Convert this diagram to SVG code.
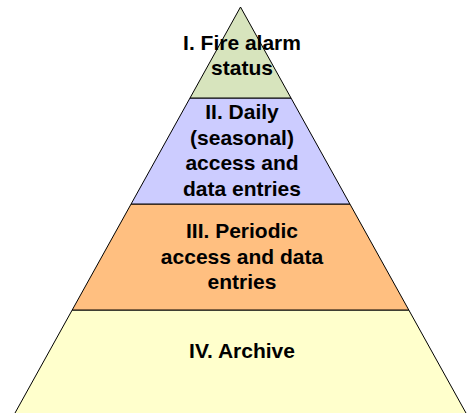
<svg xmlns="http://www.w3.org/2000/svg" width="468" height="413" viewBox="0 0 468 413">
<style>
.layer{stroke:#000;stroke-width:1}
.t{font-family:"Liberation Sans",Arial,sans-serif;font-weight:bold;font-size:21px;fill:#000;text-anchor:middle}
</style>
<rect width="468" height="413" fill="#fff"/>
<g id="level4">
<polygon class="layer" fill="#ffffcc" points="72.2,310 408.8,310 467.1,415 13.9,415"/>
<text class="t" x="242" y="358">IV. Archive</text>
</g>
<g id="level3">
<polygon class="layer" fill="#ffbf80" points="131.1,204 349.9,204 408.8,310 72.2,310"/>
<text class="t" x="242" y="238">III. Periodic</text>
<text class="t" x="242" y="263.5">access and data</text>
<text class="t" x="242" y="289">entries</text>
</g>
<g id="level2">
<polygon class="layer" fill="#ccccff" points="190,98 291,98 349.9,204 131.1,204"/>
<text class="t" x="242" y="119">II. Daily</text>
<text class="t" x="242" y="144.5">(seasonal)</text>
<text class="t" x="242" y="170">access and</text>
<text class="t" x="242" y="195.5">data entries</text>
</g>
<g id="level1">
<polygon class="layer" fill="#d7e4bd" points="240.5,7 291,98 190,98"/>
<text class="t" x="242" y="50">I. Fire alarm</text>
<text class="t" x="242" y="75">status</text>
</g>
</svg>
